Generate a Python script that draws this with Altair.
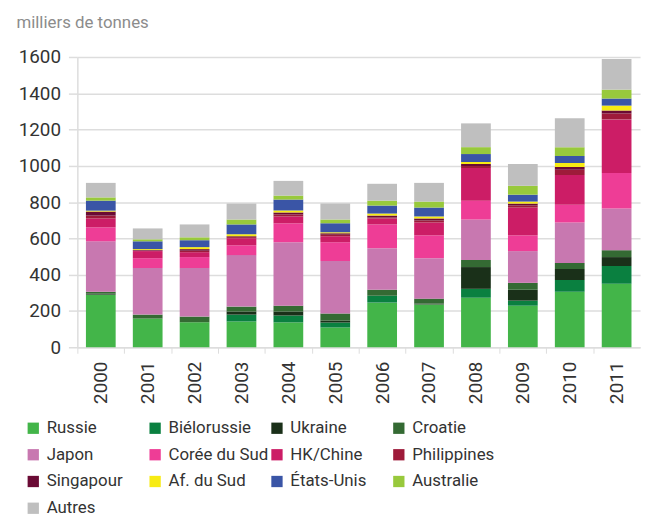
import altair as alt
import pandas as pd

years = ["2000", "2001", "2002", "2003", "2004", "2005", "2006", "2007", "2008", "2009", "2010", "2011"]

series_names = ["Russie", "Biélorussie", "Ukraine", "Croatie", "Japon", "Corée du Sud",
                "HK/Chine", "Philippines", "Singapour", "Af. du Sud", "États-Unis", "Australie", "Autres"]

colors = ["#43b549", "#0a8040", "#1a3019", "#346a33", "#c878b0", "#ee3d96",
          "#cc1d66", "#9e1b3a", "#6a0a34", "#f7eb13", "#3a55a6", "#98c93c", "#bfbfbf"]

russie = [290, 158, 138, 142, 137, 109, 246, 236, 273, 229, 306, 350]
bielorussie = [0, 0, 0, 38, 38, 28, 38, 0, 49, 28, 65, 98]
ukraine = [5, 0, 0, 17, 22, 11, 0, 5, 120, 60, 60, 49]
croatie = [11, 22, 31, 27, 32, 38, 33, 27, 39, 38, 33, 38]
japon = [278, 257, 268, 284, 350, 289, 229, 223, 223, 175, 224, 230]
coree = [77, 54, 60, 54, 104, 104, 131, 126, 104, 87, 98, 196]
hk_chine = [49, 39, 27, 39, 38, 33, 33, 71, 180, 153, 164, 295]
philippines = [16, 3, 8, 6, 11, 8, 5, 11, 11, 11, 28, 33]
singapour = [22, 3, 9, 5, 11, 8, 11, 11, 11, 11, 16, 16]
af_sud = [5, 5, 11, 11, 11, 6, 11, 11, 11, 11, 22, 27]
etats_unis = [55, 43, 38, 54, 60, 49, 44, 49, 44, 38, 38, 39]
australie = [18, 11, 16, 27, 22, 21, 27, 33, 38, 49, 49, 49]
autres = [80, 60, 71, 88, 81, 88, 93, 103, 131, 120, 159, 169]

y_ticks = [0, 200, 400, 600, 800, 1000, 1200, 1400, 1600]

all_series = [russie, bielorussie, ukraine, croatie, japon, coree, hk_chine,
              philippines, singapour, af_sud, etats_unis, australie, autres]

rows = []
for i, (name, vals) in enumerate(zip(series_names, all_series)):
    for yr, v in zip(years, vals):
        rows.append({"Année": yr, "Pays": name, "Valeur": v, "ordre": i})
df = pd.DataFrame(rows)

FONT = "Roboto, sans-serif"
W, H = 568, 293
step = W / len(years)

chart = alt.Chart(df).mark_bar().encode(
    x=alt.X("Année:N", sort=years, title=None,
            scale=alt.Scale(paddingInner=0.366, paddingOuter=0.183),
            axis=alt.Axis(labelAngle=-90, labelFontSize=19, labelColor="#333333", labelFont=FONT,
                          tickOffset=-step / 2, labelOffset=step / 2, tickSize=6, tickColor="#dddddd",
                          domainColor="#dddddd", domainWidth=1.5, labelPadding=8, grid=False)),
    y=alt.Y("Valeur:Q", stack="zero",
            scale=alt.Scale(domain=[0, 1600], nice=False),
            axis=alt.Axis(values=y_ticks, format="d", title="milliers de tonnes", titleAngle=0,
                          titleX=-62, titleY=-30, titleAlign="left", titleBaseline="alphabetic",
                          titleFont=FONT, titleFontSize=17, titleFontWeight="normal", titleColor="#8c8c8c",
                          labelFont=FONT, labelFontSize=19, labelColor="#333333", labelPadding=8,
                          tickSize=9, tickColor="#dddddd", tickWidth=1.5,
                          gridColor="#dddddd", gridWidth=1.5, domainColor="#dddddd", domainWidth=1.5)),
    color=alt.Color("Pays:N", sort=series_names,
                    scale=alt.Scale(domain=series_names, range=colors),
                    legend=alt.Legend(title=None, orient="none", legendX=-53, legendY=366,
                                      direction="horizontal",
                                      columns=4, symbolType="square", symbolSize=130,
                                      symbolStrokeWidth=0, labelFont=FONT, labelFontSize=17,
                                      labelColor="#333333", labelOffset=5, gridAlign="all",
                                      columnPadding=-5, rowPadding=9, padding=0)),
    order=alt.Order("ordre:Q", sort="ascending"),
).properties(
    width=W, height=H,
    autosize=alt.AutoSizeParams(type="none"),
    padding={"left": 70, "top": 47, "right": 7, "bottom": 180},
).configure_view(stroke=None)

chart.save("out.html", embed_options={"renderer": "svg", "actions": False})
